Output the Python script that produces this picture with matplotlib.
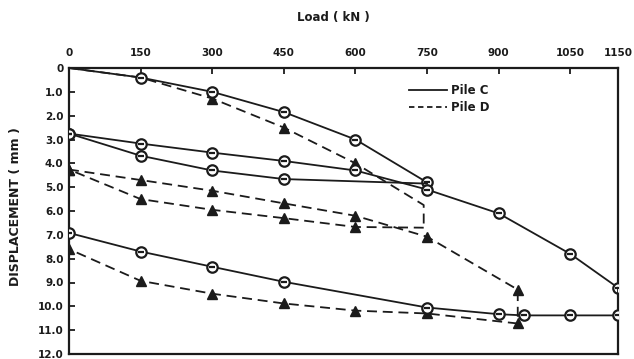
import matplotlib
matplotlib.use("Agg")
import matplotlib.pyplot as plt
from matplotlib.lines import Line2D

# ---------------- data (load kN, displacement mm) ----------------
# Pile C (solid, circles)
c_virgin_load = [0, 150, 300, 450, 600, 750]
c_virgin_disp = [0, 0.40, 1.00, 1.85, 3.00, 4.80]

c_unload1_load = [750, 450, 300, 150, 0]
c_unload1_disp = [4.85, 4.66, 4.30, 3.68, 2.75]

c_reload_load = [0, 150, 300, 450, 600, 750, 900, 1050, 1150]
c_reload_disp = [2.75, 3.17, 3.55, 3.90, 4.30, 5.10, 6.10, 7.80, 9.22]

c_unload2_load = [1150, 1150, 1050, 953, 900, 750, 450, 300, 150, 0]
c_unload2_disp = [9.22, 10.38, 10.38, 10.38, 10.33, 10.05, 8.97, 8.34, 7.70, 6.92]

# Pile D (dashed, triangles)
d_virgin_load = [0, 150, 300, 450, 600, 743, 743]
d_virgin_disp = [0, 0.40, 1.28, 2.50, 4.00, 5.75, 6.70]

d_unload1_load = [743, 600, 450, 300, 150, 0]
d_unload1_disp = [6.70, 6.67, 6.30, 5.95, 5.50, 4.26]

d_reload_load = [0, 150, 300, 450, 600, 750, 940, 940]
d_reload_disp = [4.26, 4.70, 5.15, 5.68, 6.20, 7.08, 9.30, 10.72]

d_unload2_load = [940, 750, 600, 450, 300, 150, 0]
d_unload2_disp = [10.72, 10.30, 10.18, 9.88, 9.47, 8.93, 7.60]

x_ticks = [0, 150, 300, 450, 600, 750, 900, 1050, 1150]
y_ticks = [0, 1, 2, 3, 4, 5, 6, 7, 8, 9, 10, 11, 12]
y_ticklabels = ["0", "1.0", "2.0", "3.0", "4.0", "5.0", "6.0", "7.0",
                "8.0", "9.0", "10.0", "11.0", "12.0"]

# indices of each series that carry a marker
c_series = [
    (c_virgin_load, c_virgin_disp, list(range(1, len(c_virgin_load)))),
    (c_unload1_load, c_unload1_disp, [1, 2, 3, 4]),
    (c_reload_load, c_reload_disp, list(range(len(c_reload_load)))),
    (c_unload2_load, c_unload2_disp, list(range(1, len(c_unload2_load)))),
]
d_series = [
    (d_virgin_load, d_virgin_disp, [2, 3, 4]),
    (d_unload1_load, d_unload1_disp, [1, 2, 3, 4, 5]),
    (d_reload_load, d_reload_disp, list(range(len(d_reload_load)))),
    (d_unload2_load, d_unload2_disp, list(range(1, len(d_unload2_load)))),
]

INK = "#1b1b1b"
plt.rcParams["font.family"] = ["DejaVu Sans"]
plt.rcParams["font.weight"] = "bold"

fig = plt.figure(figsize=(6.34, 3.59), dpi=100)
ax = fig.add_axes([69 / 634, 5 / 359, 549 / 634, 286 / 359])

dash = (0, (5.5, 3.2))
for xs, ys, mk in d_series:
    ax.plot(xs, ys, color=INK, lw=1.3, linestyle=dash, marker="^",
            markevery=mk, markersize=7.5, markerfacecolor=INK,
            markeredgecolor=INK, zorder=3)

for xs, ys, mk in c_series:
    ax.plot(xs, ys, color=INK, lw=1.3, linestyle="-", marker="o",
            markevery=mk, markersize=7.5, markerfacecolor="white",
            markeredgecolor=INK, markeredgewidth=1.6, zorder=4)
    ax.plot(xs, ys, linestyle="none", marker="_", markevery=mk,
            markersize=5, markeredgecolor=INK, markeredgewidth=1.6, zorder=5)

ax.set_xlim(0, 1150)
ax.set_ylim(12, 0)

ax.xaxis.tick_top()
ax.set_xticks(x_ticks)
ax.set_xticklabels([str(v) for v in x_ticks])
ax.set_yticks(y_ticks)
ax.set_yticklabels(y_ticklabels)
ax.tick_params(axis="x", direction="in", length=4, width=1.3, pad=7,
               labelsize=7.5, colors=INK, top=True, bottom=False)
ax.tick_params(axis="y", direction="in", length=4, width=1.3, pad=4,
               labelsize=7.5, colors=INK)
for lab in ax.get_xticklabels() + ax.get_yticklabels():
    lab.set_fontweight("bold")
for s in ax.spines.values():
    s.set_linewidth(1.6)
    s.set_color(INK)

fig.text(333 / 634, 1 - 17 / 359, "Load ( kN )", ha="center", va="center",
         fontsize=8.5, fontweight="bold", color=INK)
fig.text(16 / 634, 1 - 207 / 359, "DISPLACEMENT ( mm )", ha="center",
         va="center", rotation=90, fontsize=9, fontweight="bold", color=INK)

handles = [Line2D([], [], color=INK, lw=1.3, linestyle="-"),
           Line2D([], [], color=INK, lw=1.3, linestyle=(0, (3, 2)))]
leg = ax.legend(handles, ["Pile C", "Pile D"], loc="upper left",
                bbox_to_anchor=(0.62, 0.945), frameon=False, borderpad=0,
                borderaxespad=0, handlelength=3.2, handletextpad=0.3,
                labelspacing=0.35, prop={"size": 8.5, "weight": "bold"})
for t in leg.get_texts():
    t.set_color(INK)

fig.savefig("out.png", dpi=100, facecolor="white")
